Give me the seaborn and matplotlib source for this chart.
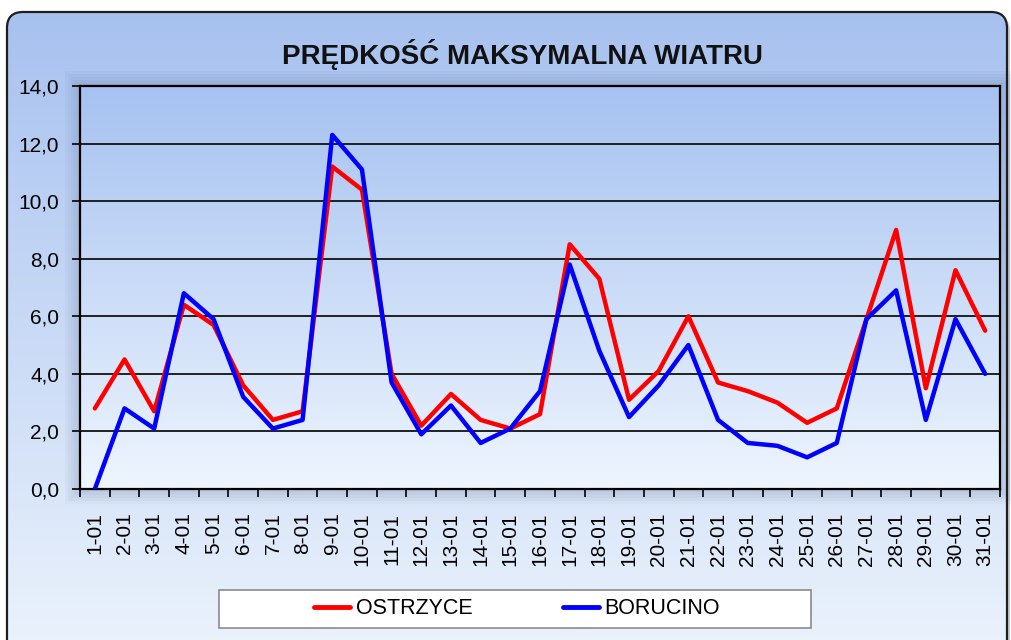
import numpy as np
import pandas as pd
import matplotlib
matplotlib.use("Agg")
import matplotlib.pyplot as plt
import seaborn as sns
from matplotlib.patches import FancyBboxPatch, Rectangle
from matplotlib.colors import LinearSegmentedColormap
from matplotlib.ticker import FuncFormatter, FixedLocator

# Dane
dni = [f"{d}-01" for d in range(1, 32)]
ostrzyce = [2.8, 4.5, 2.7, 6.4, 5.7, 3.6, 2.4, 2.7, 11.2, 10.4,
            4.0, 2.2, 3.3, 2.4, 2.1, 2.6, 8.5, 7.3, 3.1, 4.1,
            6.0, 3.7, 3.4, 3.0, 2.3, 2.8, 5.9, 9.0, 3.5, 7.6, 5.5]
borucino = [0.0, 2.8, 2.1, 6.8, 5.9, 3.2, 2.1, 2.4, 12.3, 11.1,
            3.7, 1.9, 2.9, 1.6, 2.1, 3.4, 7.8, 4.8, 2.5, 3.6,
            5.0, 2.4, 1.6, 1.5, 1.1, 1.6, 5.9, 6.9, 2.4, 5.9, 4.0]
stacje = ["OSTRZYCE", "BORUCINO"]
kolory = {"OSTRZYCE": "#ff0000", "BORUCINO": "#0000ff"}
tytul = "PRĘDKOŚĆ MAKSYMALNA WIATRU"

df = pd.DataFrame({
    "dzien": dni * 2,
    "wartosc": ostrzyce + borucino,
    "stacja": [stacje[0]] * len(dni) + [stacje[1]] * len(dni),
})

sns.set_theme(style="white")
plt.rcParams["font.family"] = ["Liberation Sans", "DejaVu Sans"]
plt.rcParams["text.color"] = "black"
plt.rcParams["xtick.color"] = "black"
plt.rcParams["ytick.color"] = "black"

W, H = 1011, 640
fig = plt.figure(figsize=(W / 100, H / 100), dpi=100)
fig.patch.set_facecolor("white")

# tlo wykresu - zaokraglony prostokat z gradientem
bg = fig.add_axes([0, 0, 1, 1], zorder=-10)
bg.set_xlim(0, W)
bg.set_ylim(H, 0)
bg.axis("off")
shadow = FancyBboxPatch((10, 15), 1000, 660, boxstyle="round,pad=0,rounding_size=16",
                        facecolor="#8f9bb0", edgecolor="none", alpha=0.5)
bg.add_patch(shadow)
ramka = FancyBboxPatch((7, 12), 1000, 660, boxstyle="round,pad=0,rounding_size=16",
                       facecolor="none", edgecolor="#1e1e1e", linewidth=1.6, zorder=3)
bg.add_patch(ramka)
cm_tlo = LinearSegmentedColormap.from_list("tlo", ["#a7c1ef", "#c9daf6", "#eaf2fc"])
grad = np.linspace(0, 1, 256).reshape(-1, 1)
im = bg.imshow(grad, cmap=cm_tlo, extent=(7, 1007, 645, 12), aspect="auto", zorder=1)
im.set_clip_path(ramka)

# cien obszaru kreslenia
for i in range(5):
    off = 3 * (i + 1)
    bg.add_patch(Rectangle((80 - off, 86 - off), 920 + 2 * off, 403 + 2 * off,
                           facecolor="#5a6d90", edgecolor="none", alpha=0.05, zorder=2))

# obszar kreslenia
ax = fig.add_axes([80 / W, 1 - 489 / H, 920 / W, 403 / H])
ax.set_facecolor("none")

sns.lineplot(data=df, x="dzien", y="wartosc", hue="stacja", palette=kolory,
             estimator=None, sort=False, linewidth=3.2, ax=ax, zorder=5)

cm_plot = LinearSegmentedColormap.from_list("plot", ["#a6c2f1", "#cadcf7", "#eef5fe"])
ax.imshow(grad, cmap=cm_plot, extent=(-0.5, len(dni) - 0.5, 0, 14),
          aspect="auto", zorder=0)
ax.set_xlim(-0.5, len(dni) - 0.5)
ax.set_ylim(0, 14)

ax.set_yticks(np.arange(0, 15, 2))
ax.yaxis.set_major_formatter(FuncFormatter(lambda v, p: f"{v:.1f}".replace(".", ",")))
ax.grid(axis="y", color="#111111", linewidth=1.3, zorder=1)
ax.grid(axis="x", visible=False)
ax.set_axisbelow(True)

ax.set_xticks(range(len(dni)))
ax.set_xticklabels(dni, rotation=90, fontsize=15)
ax.xaxis.set_minor_locator(FixedLocator(np.arange(-0.5, len(dni), 1)))
ax.tick_params(axis="x", which="major", length=0, pad=17, labelcolor="black")
ax.tick_params(axis="x", which="minor", length=6, width=1.2, color="black", bottom=True)
ax.tick_params(axis="y", which="major", length=6, width=1.2, color="black", left=True,
               labelsize=15, pad=9, labelcolor="black")
for s in ax.spines.values():
    s.set_visible(True)
    s.set_color("black")
    s.set_linewidth(1.6)
ax.set_xlabel("")
ax.set_ylabel("")

# legenda
handles, labels = ax.get_legend_handles_labels()
ax.get_legend().remove()
fig.add_artist(Rectangle((219 / W, 1 - 628 / H), 592 / W, 38 / H, transform=fig.transFigure,
                         facecolor="white", edgecolor="#8a8a8a", linewidth=1.2, zorder=2))
leg = fig.legend(handles, labels, loc="center", bbox_to_anchor=(517 / W, 1 - 609 / H),
                 ncol=2, frameon=False, fontsize=15.5, handlelength=1.7,
                 handletextpad=0.25, columnspacing=4.2, labelcolor="black")
leg.set_zorder(3)
for h in leg.get_lines():
    h.set_linewidth(3.5)

fig.text(523 / W, 1 - 55 / H, tytul, ha="center", va="center", fontsize=20,
         fontweight="bold", color="#111111")

fig.savefig("out.png", dpi=100)
